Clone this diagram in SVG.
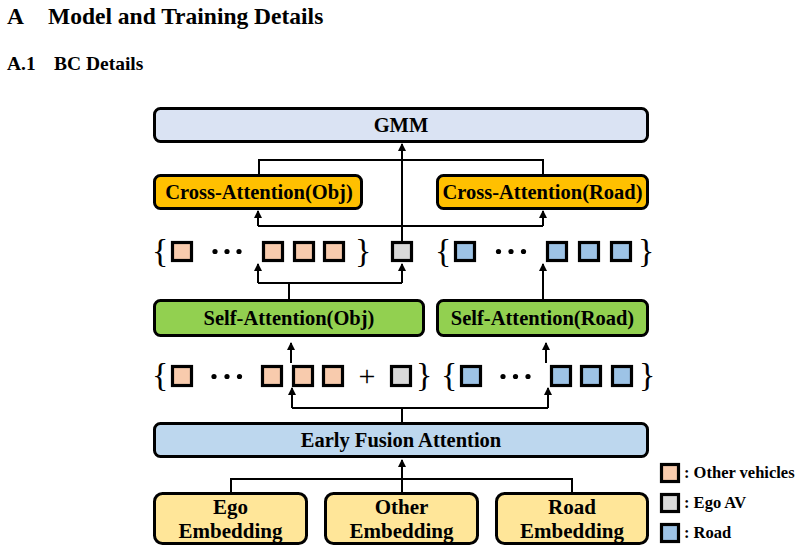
<svg xmlns="http://www.w3.org/2000/svg" width="802" height="553" viewBox="0 0 802 553">
<defs>
<marker id="ah" markerWidth="8" markerHeight="9" refX="7" refY="4" orient="auto" markerUnits="userSpaceOnUse">
<path d="M0,0 L8,4 L0,8 Z" fill="#000"/>
</marker>
<style>
.t{font-family:"Liberation Serif","Times New Roman",serif;font-weight:bold;fill:#000}
.box{stroke:#000;stroke-width:3}
.sq{stroke:#000;stroke-width:3.2}
.o{fill:#F8CBAD}.g{fill:#D9D9D9}.b{fill:#9DC3E6}
.br{font-family:"Liberation Serif","Times New Roman",serif;font-size:34px;fill:#000}
.ln{stroke:#000;stroke-width:2;fill:none}
.ar{stroke:#000;stroke-width:2;fill:none;marker-end:url(#ah)}
</style>
</defs>
<rect width="802" height="553" fill="#fff"/>
<text class="t" x="7" y="23.5" font-size="23.5">A</text>
<text class="t" x="48" y="23.5" font-size="23.5">Model and Training Details</text>
<text class="t" x="7" y="69.5" font-size="19.5">A.1</text>
<text class="t" x="54" y="69.5" font-size="19.5">BC Details</text>

<g id="gmm"><rect class="box" x="154.5" y="108.5" width="493" height="33" rx="6" fill="#DAE3F3"/><text class="t" x="401" y="132" font-size="20.5" text-anchor="middle">GMM</text></g>
<g id="cross-obj"><rect class="box" x="154.5" y="175.5" width="207" height="33" rx="6" fill="#FFC000"/><text class="t" x="259" y="199" font-size="20.5" text-anchor="middle">Cross-Attention(Obj)</text></g>
<g id="cross-road"><rect class="box" x="437.5" y="175.5" width="210" height="33" rx="6" fill="#FFC000"/><text class="t" x="542.5" y="199" font-size="20.5" text-anchor="middle">Cross-Attention(Road)</text></g>
<g id="self-obj"><rect class="box" x="154.5" y="300.5" width="269" height="35" rx="6" fill="#92D050"/><text class="t" x="289" y="325" font-size="20.5" text-anchor="middle">Self-Attention(Obj)</text></g>
<g id="self-road"><rect class="box" x="437.5" y="300.5" width="210" height="35" rx="6" fill="#92D050"/><text class="t" x="542.5" y="325" font-size="20.5" text-anchor="middle">Self-Attention(Road)</text></g>
<g id="early-fusion"><rect class="box" x="154.5" y="423.5" width="493" height="33" rx="6" fill="#BDD7EE"/><text class="t" x="401" y="447" font-size="20.5" text-anchor="middle">Early Fusion Attention</text></g>
<g id="ego-emb"><rect class="box" x="154.5" y="493.5" width="152" height="50" rx="8" fill="#FFE699"/><text class="t" x="230.5" y="513.5" font-size="21" text-anchor="middle">Ego</text><text class="t" x="230.5" y="537.5" font-size="21" text-anchor="middle">Embedding</text></g>
<g id="other-emb"><rect class="box" x="325.5" y="493.5" width="152" height="50" rx="8" fill="#FFE699"/><text class="t" x="401.5" y="513.5" font-size="21" text-anchor="middle">Other</text><text class="t" x="401.5" y="537.5" font-size="21" text-anchor="middle">Embedding</text></g>
<g id="road-emb"><rect class="box" x="496.5" y="493.5" width="151" height="50" rx="8" fill="#FFE699"/><text class="t" x="572" y="513.5" font-size="21" text-anchor="middle">Road</text><text class="t" x="572" y="537.5" font-size="21" text-anchor="middle">Embedding</text></g>

<g id="tokens-upper">
<text class="br" x="152" y="262">{</text>
<rect class="sq o" x="172.5" y="242.5" width="19" height="18"/>
<circle cx="215" cy="251.5" r="2.6"/><circle cx="227" cy="251.5" r="2.6"/><circle cx="239" cy="251.5" r="2.6"/>
<rect class="sq o" x="263.5" y="242.5" width="19" height="18"/>
<rect class="sq o" x="294.5" y="242.5" width="19" height="18"/>
<rect class="sq o" x="324.5" y="242.5" width="19" height="18"/>
<text class="br" x="355" y="262">}</text>
<rect class="sq g" x="392.5" y="242.5" width="19" height="18"/>
<text class="br" x="435" y="262">{</text>
<rect class="sq b" x="455.5" y="242.5" width="19" height="18"/>
<circle cx="498.5" cy="251.5" r="2.6"/><circle cx="511" cy="251.5" r="2.6"/><circle cx="523.5" cy="251.5" r="2.6"/>
<rect class="sq b" x="547.5" y="242.5" width="19" height="18"/>
<rect class="sq b" x="579.5" y="242.5" width="19" height="18"/>
<rect class="sq b" x="611.5" y="242.5" width="19" height="18"/>
<text class="br" x="638" y="262">}</text>
</g>

<g id="tokens-lower">
<text class="br" x="152" y="386">{</text>
<rect class="sq o" x="172.5" y="366.5" width="19" height="19"/>
<circle cx="214" cy="376.5" r="2.6"/><circle cx="227" cy="376.5" r="2.6"/><circle cx="239.5" cy="376.5" r="2.6"/>
<rect class="sq o" x="262.5" y="366.5" width="19" height="19"/>
<rect class="sq o" x="293.5" y="366.5" width="19" height="19"/>
<rect class="sq o" x="323.5" y="366.5" width="19" height="19"/>
<text x="367" y="386" font-family="Liberation Serif, serif" font-size="30" text-anchor="middle">+</text>
<rect class="sq g" x="391.5" y="366.5" width="19" height="19"/>
<text class="br" x="416" y="386">}</text>
<text class="br" x="441" y="386">{</text>
<rect class="sq b" x="461.5" y="366.5" width="19" height="19"/>
<circle cx="503" cy="376.5" r="2.6"/><circle cx="515.5" cy="376.5" r="2.6"/><circle cx="528" cy="376.5" r="2.6"/>
<rect class="sq b" x="551.5" y="366.5" width="19" height="19"/>
<rect class="sq b" x="581.5" y="366.5" width="19" height="19"/>
<rect class="sq b" x="612.5" y="366.5" width="19" height="19"/>
<text class="br" x="639" y="386">}</text>
</g>

<g id="connectors">
<path class="ln" d="M259,174 V160 H543 V174"/>
<path class="ar" d="M402,241 V144"/>
<path class="ln" d="M258,226 H543"/>
<path class="ar" d="M258,226 V211"/>
<path class="ar" d="M543,226 V211"/>
<path class="ln" d="M289,299 V283 M258,283 H402"/>
<path class="ar" d="M258,283 V264"/>
<path class="ar" d="M402,283 V264"/>
<path class="ar" d="M543,299 V264"/>
<path class="ar" d="M291,363 V343"/>
<path class="ar" d="M546,363 V343"/>
<path class="ln" d="M292,408 H548 M402,408 V422"/>
<path class="ar" d="M292,408 V388"/>
<path class="ar" d="M548,408 V388"/>
<path class="ln" d="M231,492 V479 H572 V492"/>
<path class="ar" d="M402,492 V460"/>
</g>

<g id="legend">
<rect class="sq o" x="661.5" y="464.5" width="17" height="17"/>
<text class="t" x="684" y="477.5" font-size="16.5">: Other vehicles</text>
<rect class="sq g" x="661.5" y="494.5" width="17" height="17"/>
<text class="t" x="684" y="507.5" font-size="16.5">: Ego AV</text>
<rect class="sq b" x="661.5" y="524.5" width="17" height="17"/>
<text class="t" x="684" y="537.5" font-size="16.5">: Road</text>
</g>
</svg>
